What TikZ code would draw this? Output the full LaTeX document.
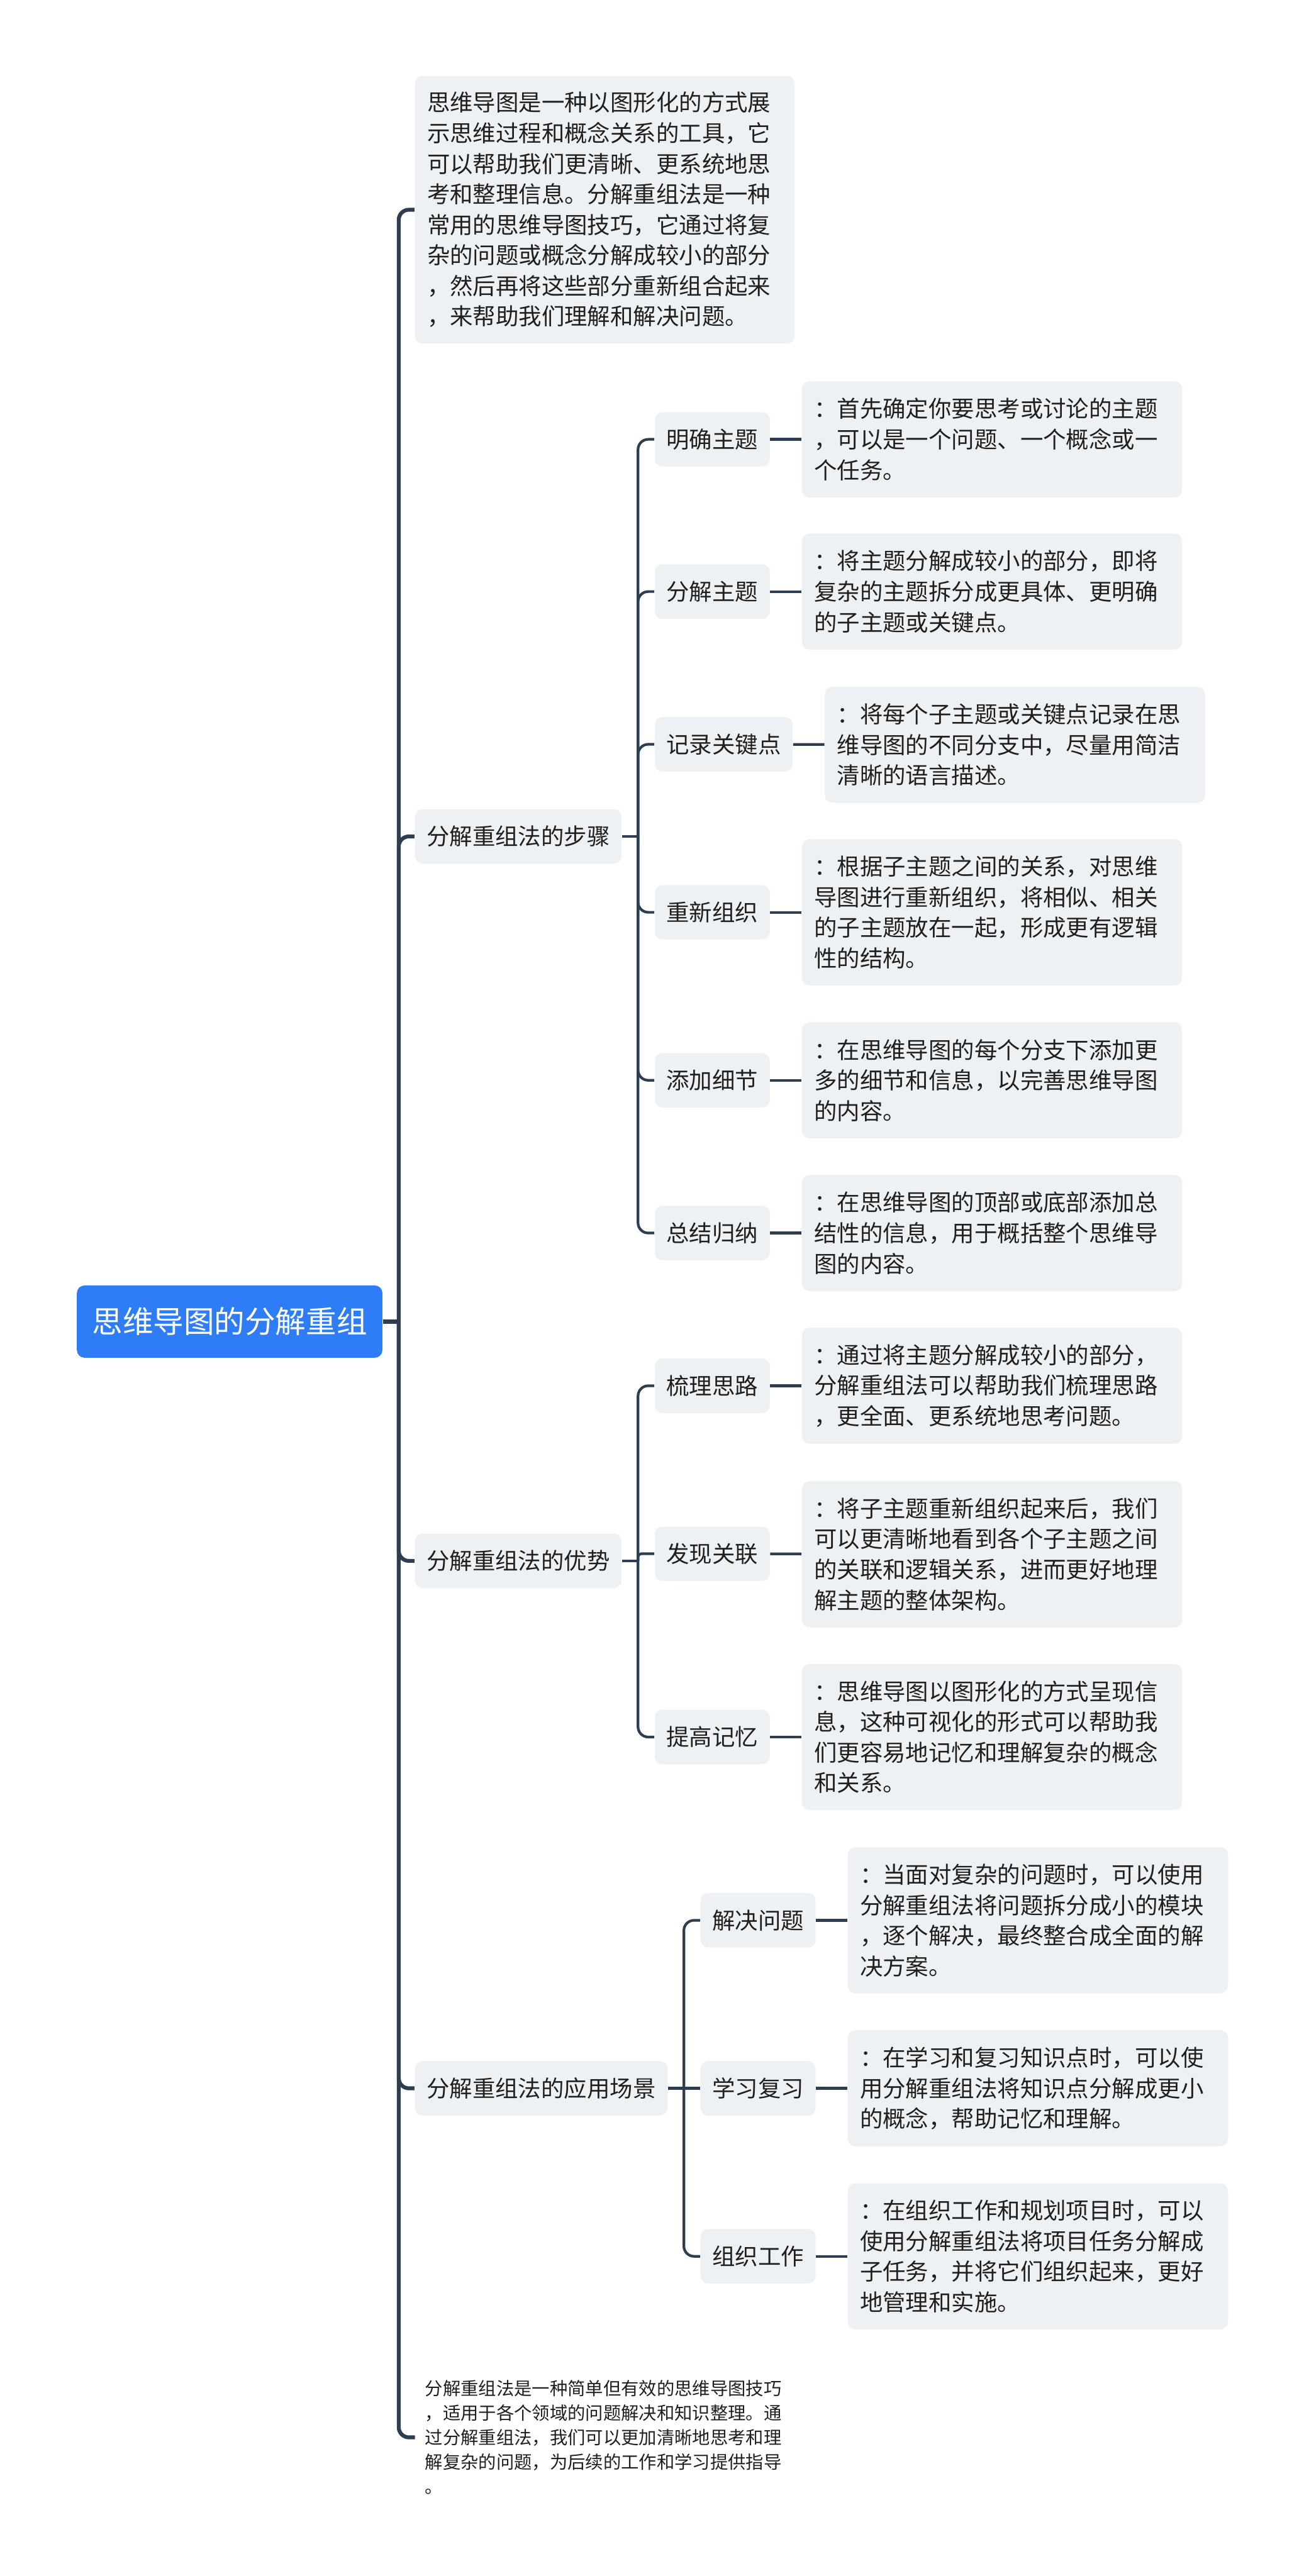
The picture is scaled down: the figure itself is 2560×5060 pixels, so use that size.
\documentclass[tikz,border=0pt]{standalone}
\usepackage{fontspec}
\setmainfont{Noto Sans CJK SC}
\definecolor{linec}{HTML}{2E3E52}
\definecolor{boxc}{HTML}{EEF1F4}
\definecolor{rootc}{HTML}{2F7DF6}
\definecolor{txtc}{HTML}{1F1F1F}
\tikzset{
  base/.style={text=txtc, font=\fontsize{11.25pt}{15pt}\selectfont, inner ysep=0pt},
  box/.style={base, fill=boxc, rounded corners=3.75pt},
  lbl/.style={box, anchor=west, inner xsep=5.75pt, minimum height=26.75pt, align=center},
  det/.style={box, anchor=west, inner xsep=6pt, text width=174.75pt, align=left},
  three/.style={minimum height=57pt},
  four/.style={minimum height=71.75pt},
  rootbox/.style={fill=rootc, text=white, rounded corners=3.75pt, font=\fontsize{15pt}{18pt}\selectfont, minimum width=150pt, minimum height=35.5pt, inner sep=0pt},
  l1/.style={draw=linec, line width=1.9pt, rounded corners=5pt},
  l2/.style={draw=linec, line width=1.3pt, rounded corners=5pt},
}
\begin{document}
\begin{tikzpicture}[x=0.25pt, y=-0.25pt]
\fill[white] (0,0) rectangle (2560,5060);
\useasboundingbox (0,0) rectangle (2560,5060);

% root
\node[rootbox] (root) at (451,2596) {思维导图的分解重组};

% level 1
\node[box, anchor=west, inner xsep=6pt, text width=174.5pt, align=left, minimum height=131.5pt] (intro) at (814,412) {思维导图是一种以图形化的方式展\\示思维过程和概念关系的工具，它\\可以帮助我们更清晰、更系统地思\\考和整理信息。分解重组法是一种\\常用的思维导图技巧，它通过将复\\杂的问题或概念分解成较小的部分\\，然后再将这些部分重新组合起来\\，来帮助我们理解和解决问题。};
\node[lbl] (steps) at (814,1643) {分解重组法的步骤};
\node[lbl] (adv) at (814,3066) {分解重组法的优势};
\node[lbl] (app) at (814,4102) {分解重组法的应用场景};
\node[base, anchor=north west, inner xsep=4.75pt, text width=175pt, align=left, font=\fontsize{8.75pt}{12pt}\selectfont] (concl) at (815,4675) {分解重组法是一种简单但有效的思维导图技巧\\，适用于各个领域的问题解决和知识整理。通\\过分解重组法，我们可以更加清晰地思考和理\\解复杂的问题，为后续的工作和学习提供指导\\。};

% steps children
\node[lbl] (s1) at (1285,863) {明确主题};
\node[lbl] (s2) at (1285,1162) {分解主题};
\node[lbl] (s3) at (1285,1462) {记录关键点};
\node[lbl] (s4) at (1285,1792) {重新组织};
\node[lbl] (s5) at (1285,2122) {添加细节};
\node[lbl] (s6) at (1285,2422) {总结归纳};

\node[det, three] (d1) at (1574,863) {：首先确定你要思考或讨论的主题\\，可以是一个问题、一个概念或一\\个任务。};
\node[det, three] (d2) at (1574,1162) {：将主题分解成较小的部分，即将\\复杂的主题拆分成更具体、更明确\\的子主题或关键点。};
\node[det, three] (d3) at (1619,1463) {：将每个子主题或关键点记录在思\\维导图的不同分支中，尽量用简洁\\清晰的语言描述。};
\node[det, four] (d4) at (1574,1792) {：根据子主题之间的关系，对思维\\导图进行重新组织，将相似、相关\\的子主题放在一起，形成更有逻辑\\性的结构。};
\node[det, three] (d5) at (1574,2122) {：在思维导图的每个分支下添加更\\多的细节和信息，以完善思维导图\\的内容。};
\node[det, three] (d6) at (1574,2422) {：在思维导图的顶部或底部添加总\\结性的信息，用于概括整个思维导\\图的内容。};

% advantages children
\node[lbl] (a1) at (1285,2722) {梳理思路};
\node[lbl] (a2) at (1285,3052) {发现关联};
\node[lbl] (a3) at (1285,3412) {提高记忆};

\node[det, three] (e1) at (1574,2722) {：通过将主题分解成较小的部分，\\分解重组法可以帮助我们梳理思路\\，更全面、更系统地思考问题。};
\node[det, four] (e2) at (1574,3053) {：将子主题重新组织起来后，我们\\可以更清晰地看到各个子主题之间\\的关联和逻辑关系，进而更好地理\\解主题的整体架构。};
\node[det, four] (e3) at (1574,3412) {：思维导图以图形化的方式呈现信\\息，这种可视化的形式可以帮助我\\们更容易地记忆和理解复杂的概念\\和关系。};

% application children
\node[lbl] (p1) at (1375,3772) {解决问题};
\node[lbl] (p2) at (1375,4102) {学习复习};
\node[lbl] (p3) at (1375,4432) {组织工作};

\node[det, four] (q1) at (1664,3772) {：当面对复杂的问题时，可以使用\\分解重组法将问题拆分成小的模块\\，逐个解决，最终整合成全面的解\\决方案。};
\node[det, three] (q2) at (1664,4102) {：在学习和复习知识点时，可以使\\用分解重组法将知识点分解成更小\\的概念，帮助记忆和理解。};
\node[det, four] (q3) at (1664,4432) {：在组织工作和规划项目时，可以\\使用分解重组法将项目任务分解成\\子任务，并将它们组织起来，更好\\地管理和实施。};

% junction coordinates
\coordinate (j0) at (783,2596);
\coordinate (js) at (1253,1643);
\coordinate (ja) at (1253,3066);
\coordinate (jp) at (1343,4102);

% level 1 connectors
\draw[l1] (root.east) -- (j0);
\draw[l1] (j0) |- (intro.west);
\draw[l1] (j0) |- (steps.west);
\draw[l1] (j0) |- (adv.west);
\draw[l1] (j0) |- (app.west);
\draw[l1] (j0) |- (concl.west);

% steps connectors
\draw[l2] (steps.east) -- (js);
\foreach \n in {s1,s2,s3,s4,s5,s6} \draw[l2] (js) |- (\n.west);
\draw[l2] (s1) -- (d1); \draw[l2] (s2) -- (d2); \draw[l2] (s3) -- (d3);
\draw[l2] (s4) -- (d4); \draw[l2] (s5) -- (d5); \draw[l2] (s6) -- (d6);

% advantages connectors
\draw[l2] (adv.east) -- (ja);
\draw[l2] (ja) |- (a1.west);
\draw[l2, rounded corners=1.5pt] (ja) |- (a2.west);
\draw[l2] (ja) |- (a3.west);
\draw[l2] (a1) -- (e1); \draw[l2] (a2) -- (e2); \draw[l2] (a3) -- (e3);

% application connectors
\draw[l2] (app.east) -- (jp);
\draw[l2] (jp) |- (p1.west);
\draw[l2] (jp) -- (p2.west);
\draw[l2] (jp) |- (p3.west);
\draw[l2] (p1) -- (q1); \draw[l2] (p2) -- (q2); \draw[l2] (p3) -- (q3);
\end{tikzpicture}
\end{document}
